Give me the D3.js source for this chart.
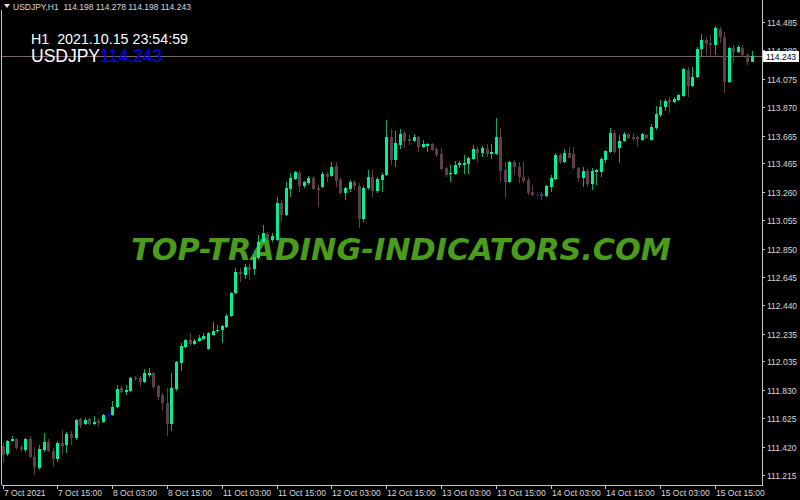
<!DOCTYPE html>
<html>
<head>
<meta charset="utf-8">
<script src="https://cdn.jsdelivr.net/npm/d3@7/dist/d3.min.js"></script>
<style>
  html, body { margin: 0; padding: 0; background: #000; }
  svg { display: block; }
  text { white-space: pre; }
</style>
</head>
<body>
<div id="chart"></div>
<script>
// USDJPY H1, 7 Oct 03:00 .. 15 Oct 23:00 (one bar per hour)
const symbol = "USDJPY";
const period = "H1";
const serverTime = "2021.10.15 23:54:59";

const opens = [
  111.424,111.366,111.460,111.474,111.417,111.395,111.474,111.345,111.265,111.395,
  111.453,111.388,111.330,111.446,111.431,111.510,111.482,111.619,111.583,111.619,
  111.583,111.604,111.597,111.648,111.648,111.706,111.843,111.814,111.821,111.915,
  111.915,111.886,111.937,111.951,111.857,111.792,111.734,111.583,111.835,112.023,
  112.139,112.189,112.160,112.182,112.196,112.124,112.225,112.254,112.261,112.283,
  112.362,112.529,112.680,112.659,112.716,112.702,112.781,112.897,112.955,112.911,
  112.911,113.178,113.092,113.279,113.352,113.395,113.301,113.323,113.359,113.287,
  113.294,113.388,113.373,113.446,113.344,113.251,113.279,113.330,113.301,113.063,
  113.287,113.366,113.265,113.344,113.381,113.655,113.489,113.597,113.684,113.640,
  113.626,113.655,113.583,113.590,113.604,113.568,113.532,113.431,113.388,113.388,
  113.453,113.453,113.460,113.496,113.568,113.539,113.568,113.532,113.532,113.655,
  113.417,113.330,113.474,113.438,113.366,113.344,113.258,113.236,113.243,113.229,
  113.294,113.352,113.525,113.474,113.539,113.532,113.431,113.359,113.409,113.316,
  113.402,113.402,113.489,113.547,113.684,113.575,113.626,113.677,113.655,113.655,
  113.633,113.669,113.633,113.720,113.814,113.871,113.922,113.908,113.922,113.951,
  114.139,114.023,114.088,114.290,114.355,114.334,114.319,114.435,114.377,114.052,
  114.297,114.269,114.297,114.247,114.198
];
const highs = [
  111.446,111.467,111.496,111.482,111.431,111.482,111.496,111.417,111.431,111.518,
  111.474,111.409,111.460,111.539,111.525,111.532,111.619,111.626,111.626,111.626,
  111.640,111.626,111.655,111.662,111.749,111.864,111.857,111.864,111.922,111.929,
  111.929,111.980,111.987,111.958,111.864,111.807,111.843,111.951,112.038,112.168,
  112.196,112.240,112.196,112.225,112.240,112.247,112.319,112.298,112.298,112.377,
  112.536,112.709,112.709,112.738,112.738,112.839,112.947,113.020,112.969,112.962,
  113.222,113.200,113.330,113.395,113.409,113.409,113.337,113.373,113.373,113.308,
  113.402,113.402,113.474,113.474,113.359,113.294,113.344,113.344,113.323,113.301,
  113.417,113.417,113.366,113.395,113.778,113.713,113.698,113.713,113.698,113.669,
  113.677,113.662,113.633,113.612,113.612,113.583,113.575,113.438,113.453,113.482,
  113.482,113.525,113.510,113.597,113.583,113.590,113.604,113.604,113.792,113.720,
  113.474,113.482,113.489,113.474,113.474,113.366,113.308,113.265,113.258,113.308,
  113.381,113.539,113.539,113.568,113.583,113.583,113.438,113.438,113.424,113.431,
  113.424,113.510,113.561,113.720,113.705,113.669,113.691,113.684,113.684,113.662,
  113.684,113.677,113.749,113.879,113.922,113.929,113.944,113.944,113.965,114.153,
  114.160,114.160,114.305,114.399,114.377,114.391,114.456,114.449,114.413,114.305,
  114.319,114.319,114.319,114.261,114.278
];
const lows = [
  111.301,111.352,111.453,111.395,111.381,111.381,111.337,111.215,111.251,111.381,
  111.381,111.272,111.308,111.359,111.373,111.431,111.467,111.554,111.575,111.575,
  111.575,111.561,111.590,111.633,111.640,111.698,111.807,111.792,111.814,111.893,
  111.850,111.879,111.922,111.835,111.756,111.684,111.496,111.532,111.821,111.965,
  112.131,112.146,112.153,112.175,112.189,112.117,112.218,112.240,112.168,112.276,
  112.355,112.521,112.608,112.630,112.622,112.659,112.767,112.882,112.911,112.897,
  112.904,113.041,113.085,113.222,113.344,113.258,113.287,113.308,113.272,113.150,
  113.287,113.330,113.366,113.294,113.236,113.200,113.258,113.272,112.998,113.041,
  113.272,113.222,113.251,113.258,113.373,113.453,113.438,113.568,113.575,113.597,
  113.619,113.547,113.575,113.547,113.554,113.510,113.417,113.366,113.330,113.381,
  113.431,113.388,113.388,113.489,113.467,113.510,113.510,113.496,113.525,113.330,
  113.214,113.323,113.381,113.323,113.323,113.236,113.229,113.200,113.200,113.222,
  113.258,113.344,113.460,113.467,113.503,113.424,113.330,113.294,113.294,113.272,
  113.308,113.366,113.467,113.539,113.532,113.467,113.619,113.640,113.626,113.583,
  113.626,113.640,113.626,113.705,113.799,113.843,113.828,113.900,113.915,113.944,
  113.944,114.016,114.081,114.232,114.247,114.240,114.247,114.334,113.973,114.045,
  114.189,114.261,114.232,114.175,114.198
];
const closes = [
  111.359,111.460,111.474,111.409,111.402,111.474,111.345,111.272,111.402,111.453,
  111.388,111.330,111.446,111.424,111.510,111.482,111.612,111.575,111.612,111.583,
  111.597,111.590,111.648,111.648,111.706,111.835,111.814,111.828,111.915,111.908,
  111.886,111.951,111.951,111.850,111.778,111.734,111.583,111.843,112.030,112.146,
  112.189,112.160,112.182,112.204,112.218,112.240,112.254,112.261,112.290,112.362,
  112.529,112.680,112.666,112.716,112.695,112.789,112.897,112.962,112.926,112.940,
  113.178,113.092,113.287,113.359,113.402,113.301,113.330,113.359,113.279,113.272,
  113.388,113.366,113.438,113.337,113.251,113.287,113.330,113.301,113.063,113.287,
  113.366,113.265,113.352,113.381,113.655,113.489,113.612,113.677,113.626,113.626,
  113.655,113.583,113.604,113.604,113.561,113.525,113.424,113.381,113.395,113.453,
  113.467,113.467,113.503,113.568,113.539,113.575,113.532,113.547,113.655,113.409,
  113.330,113.474,113.438,113.366,113.337,113.251,113.236,113.236,113.229,113.301,
  113.359,113.525,113.474,113.539,113.503,113.431,113.359,113.409,113.316,113.409,
  113.417,113.496,113.554,113.684,113.547,113.626,113.677,113.648,113.640,113.640,
  113.677,113.648,113.727,113.821,113.871,113.915,113.908,113.929,113.958,114.146,
  114.023,114.088,114.290,114.355,114.326,114.319,114.442,114.377,114.052,114.297,
  114.269,114.305,114.247,114.196,114.243
];

// price scale labels (right side)
const priceTicks = [114.485,114.280,114.075,113.870,113.665,113.465,113.260,113.055,
  112.850,112.645,112.440,112.235,112.035,111.830,111.625,111.420,111.215];
// time labels, one every 12 bars
const timeTickBars = [0,12,24,36,48,60,72,84,96,108,120,132,144,156];
const timeTickLabels = ["7 Oct 2021","7 Oct 15:00","8 Oct 03:00","8 Oct 15:00",
  "11 Oct 03:00","11 Oct 15:00","12 Oct 03:00","12 Oct 15:00","13 Oct 03:00",
  "13 Oct 15:00","14 Oct 03:00","14 Oct 15:00","15 Oct 03:00","15 Oct 15:00"];

const W = 800, H = 500;
const plotRight = 762, plotBottom = 485;

const bullColor = '#00f09a';
const bullWick = '#12a86a';
const bearColor = '#5e3d4c';
const dojiColor = '#0000ff';
const axisColor = '#c8c8c8';
const labelFont = '"Liberation Sans", Arial, sans-serif';

const svg = d3.select('#chart').append('svg')
  .attr('width', W).attr('height', H)
  .style('background', '#000');

const x = d3.scaleLinear().domain([0, opens.length - 1]).range([2.5, 751.5]);
const y = d3.scaleLinear().domain([111.215, 114.485]).range([475, 22]);

const bars = opens.map((o, i) => ({ i, o, h: highs[i], l: lows[i], c: closes[i] }));

// watermark
svg.append('text')
  .attr('x', 131).attr('y', 260)
  .attr('textLength', 540).attr('lengthAdjust', 'spacingAndGlyphs')
  .style('font-family', '"DejaVu Sans", sans-serif')
  .style('font-weight', 'bold').style('font-style', 'italic')
  .style('font-size', '31px')
  .style('fill', '#4c9c1c')
  .text('TOP-TRADING-INDICATORS.COM');

// current price line
const last = closes[closes.length - 1];
svg.append('line')
  .attr('x1', 2).attr('x2', plotRight)
  .attr('y1', Math.round(y(last)) + 0.5).attr('y2', Math.round(y(last)) + 0.5)
  .style('stroke', '#7b5f6a').style('stroke-width', 1);

// candles
const g = svg.append('g').attr('shape-rendering', 'crispEdges');
const colorOf = d => d.c > d.o ? bullColor : d.c < d.o ? bearColor : dojiColor;

g.selectAll('.wick').data(bars).enter().append('line')
  .attr('class', 'wick')
  .attr('x1', d => Math.round(x(d.i)) + 0.5).attr('x2', d => Math.round(x(d.i)) + 0.5)
  .attr('y1', d => y(d.h)).attr('y2', d => y(d.l))
  .style('stroke', d => d.c > d.o ? bullWick : colorOf(d))
  .style('stroke-width', 1);

g.selectAll('.body').data(bars).enter().append('rect')
  .attr('class', 'body')
  .attr('x', d => Math.round(x(d.i)) - 1)
  .attr('width', 3)
  .attr('y', d => Math.round(y(Math.max(d.o, d.c))))
  .attr('height', d => Math.max(1, Math.round(Math.abs(y(d.o) - y(d.c)))))
  .style('fill', colorOf);

// frame
const frame = svg.append('g').attr('shape-rendering', 'crispEdges');
frame.append('line').attr('x1', 1.5).attr('x2', 1.5).attr('y1', 10).attr('y2', plotBottom)
  .style('stroke', axisColor);
frame.append('line').attr('x1', plotRight + 0.5).attr('x2', plotRight + 0.5).attr('y1', 0).attr('y2', plotBottom + 0.5)
  .style('stroke', axisColor);
frame.append('line').attr('x1', 1.5).attr('x2', plotRight + 0.5).attr('y1', plotBottom + 0.5).attr('y2', plotBottom + 0.5)
  .style('stroke', axisColor);

// price axis
const pa = svg.append('g');
priceTicks.forEach(p => {
  const yy = Math.round(y(p)) + 0.5;
  pa.append('line').attr('x1', plotRight).attr('x2', plotRight + 3)
    .attr('y1', yy).attr('y2', yy).style('stroke', axisColor).attr('shape-rendering', 'crispEdges');
  pa.append('text').attr('x', plotRight + 5).attr('y', yy + 3)
    .style('font-family', labelFont).style('font-size', '8.5px')
    .style('fill', '#d8d8d8').text(p.toFixed(3));
});

// last price box
const ly = Math.round(y(last));
pa.append('rect').attr('x', plotRight + 1).attr('y', ly - 5).attr('width', 36).attr('height', 11)
  .style('fill', '#fff');
pa.append('text').attr('x', plotRight + 4).attr('y', ly + 3.5)
  .style('font-family', labelFont).style('font-size', '8.5px')
  .style('fill', '#000').text(last.toFixed(3));

// time axis
const ta = svg.append('g');
timeTickBars.forEach((b, k) => {
  const xx = Math.round(x(b)) + 0.5;
  ta.append('line').attr('x1', xx).attr('x2', xx).attr('y1', plotBottom).attr('y2', plotBottom + 4)
    .style('stroke', axisColor).attr('shape-rendering', 'crispEdges');
  ta.append('text').attr('x', xx + 0.5).attr('y', 496)
    .style('font-family', labelFont).style('font-size', '8.5px')
    .style('fill', '#d8d8d8').text(timeTickLabels[k]);
});

// header line
svg.append('path').attr('d', 'M4,4 L10,4 L7,8 Z').style('fill', '#e0e0e0');
svg.append('text').attr('x', 13).attr('y', 10)
  .style('font-family', labelFont).style('font-size', '8.5px').style('fill', '#d8d8d8')
  .text(`${symbol},${period}  ${opens[opens.length-1].toFixed(3)} ${highs[highs.length-1].toFixed(3)} ${lows[lows.length-1].toFixed(3)} ${last.toFixed(3)}`);

// info text
svg.append('text').attr('x', 31).attr('y', 44)
  .attr('textLength', 157).attr('lengthAdjust', 'spacingAndGlyphs')
  .style('font-family', labelFont).style('font-size', '15.5px').style('fill', '#fff')
  .text(`${period}  ${serverTime}`);
const info = svg.append('text').attr('x', 31).attr('y', 62)
  .style('font-family', labelFont).style('font-size', '17.5px');
info.append('tspan').style('fill', '#fff').text(symbol);
info.append('tspan').style('fill', '#0000ff').text(last.toFixed(3));
</script>
</body>
</html>
